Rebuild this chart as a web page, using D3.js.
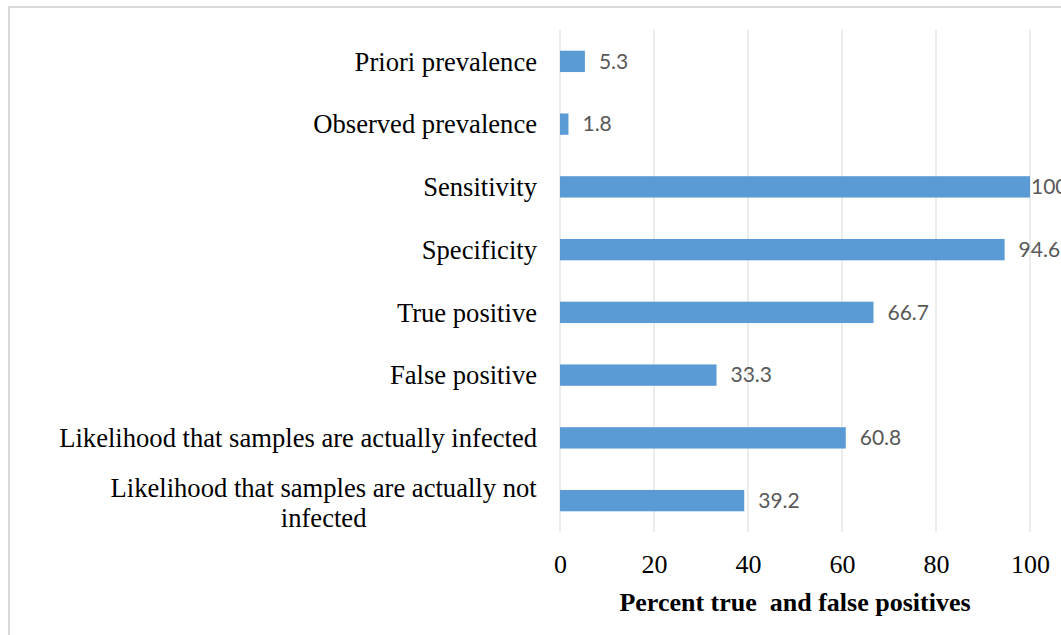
<!DOCTYPE html>
<html>
<head>
<meta charset="utf-8">
<script src="https://cdn.jsdelivr.net/npm/d3@7"></script>
<style>
  body { margin: 0; background: #fff; }
  svg { display: block; }
</style>
</head>
<body>
<div class="chart"></div>
<script>
// data
var categories = [
  'Priori prevalence',
  'Observed prevalence',
  'Sensitivity',
  'Specificity',
  'True positive',
  'False positive',
  'Likelihood that samples are actually infected',
  'Likelihood that samples are actually not infected'
];
var values = [5.3, 1.8, 100, 94.6, 66.7, 33.3, 60.8, 39.2];
var xTicks = [0, 20, 40, 60, 80, 100];
var xTitle = 'Percent true  and false positives';

var width = 1061, height = 635;
var plot = {left: 560, right: 1030, top: 30, bottom: 532};
var serif = '"Liberation Serif", "Times New Roman", serif';

var svg = d3.select('.chart').append('svg')
  .attr('width', width)
  .attr('height', height);

// chart frame (right / bottom edges fall outside the picture)
svg.append('rect')
  .attr('x', 9).attr('y', 7)
  .attr('width', 1100).attr('height', 700)
  .attr('fill', 'none')
  .attr('stroke', '#d9d9d9')
  .attr('stroke-width', 2);

var x = d3.scaleLinear().domain([0, 100]).range([plot.left, plot.right]);
var y = d3.scaleBand().domain(categories).range([plot.top, plot.bottom]).paddingInner(0.66).paddingOuter(0.33);

// gridlines
svg.append('g').selectAll('line')
  .data(xTicks)
  .enter().append('line')
  .attr('x1', function(d) { return x(d); })
  .attr('x2', function(d) { return x(d); })
  .attr('y1', plot.top)
  .attr('y2', plot.bottom)
  .attr('stroke', '#d9d9d9')
  .attr('stroke-width', 1);

// x axis labels
var xAxis = d3.axisBottom(x).tickValues(xTicks).tickSize(0).tickPadding(0);
var gx = svg.append('g')
  .attr('transform', 'translate(0,' + (plot.bottom + 23) + ')')
  .call(xAxis);
gx.select('.domain').remove();
gx.selectAll('text')
  .attr('font-family', serif)
  .attr('font-size', 26)
  .attr('fill', '#000')
  .attr('dy', '0.71em');

svg.append('text')
  .attr('x', 795)
  .attr('y', 611)
  .attr('text-anchor', 'middle')
  .attr('font-family', serif)
  .attr('font-weight', 'bold')
  .attr('font-size', 26)
  .attr('xml:space', 'preserve')
  .text(xTitle);

// bars
svg.append('g').selectAll('rect')
  .data(values)
  .enter().append('rect')
  .attr('x', x(0))
  .attr('y', function(d, i) { return y(categories[i]); })
  .attr('width', function(d) { return x(d) - x(0); })
  .attr('height', y.bandwidth())
  .attr('fill', '#5b9bd5');

// value labels (the 100 one runs off the right edge, as in the source)
svg.append('g').selectAll('text')
  .data(values)
  .enter().append('text')
  .attr('x', function(d) { return Math.min(x(d) + 14, 1031); })
  .attr('y', function(d, i) { return y(categories[i]) + y.bandwidth() / 2; })
  .attr('dy', '0.35em')
  .attr('font-family', 'Lato, "Open Sans", sans-serif')
  .attr('font-size', 21)
  .attr('fill', '#595959')
  .text(function(d) { return d; });

// category labels, long one wrapped in two centred lines
var labelGroup = svg.append('g');
categories.forEach(function(c, i) {
  var cy = y(c) + y.bandwidth() / 2;
  var t = labelGroup.append('text')
    .attr('font-family', serif)
    .attr('font-size', 26.6)
    .attr('fill', '#000');
  if (c.length > 46) {
    var lines = ['Likelihood that samples are actually not', 'infected'];
    t.attr('text-anchor', 'middle');
    t.append('tspan').attr('x', 0).attr('y', cy - 13).attr('dy', '0.35em').text(lines[0]);
    t.append('tspan').attr('x', 0).attr('y', cy + 17).attr('dy', '0.35em').text(lines[1]);
    var w = t.node().getBBox().width;
    t.selectAll('tspan').attr('x', 537 - w / 2);
  } else {
    t.attr('x', 537).attr('y', cy).attr('dy', '0.35em')
      .attr('text-anchor', 'end')
      .text(c);
  }
});
</script>
</body>
</html>
